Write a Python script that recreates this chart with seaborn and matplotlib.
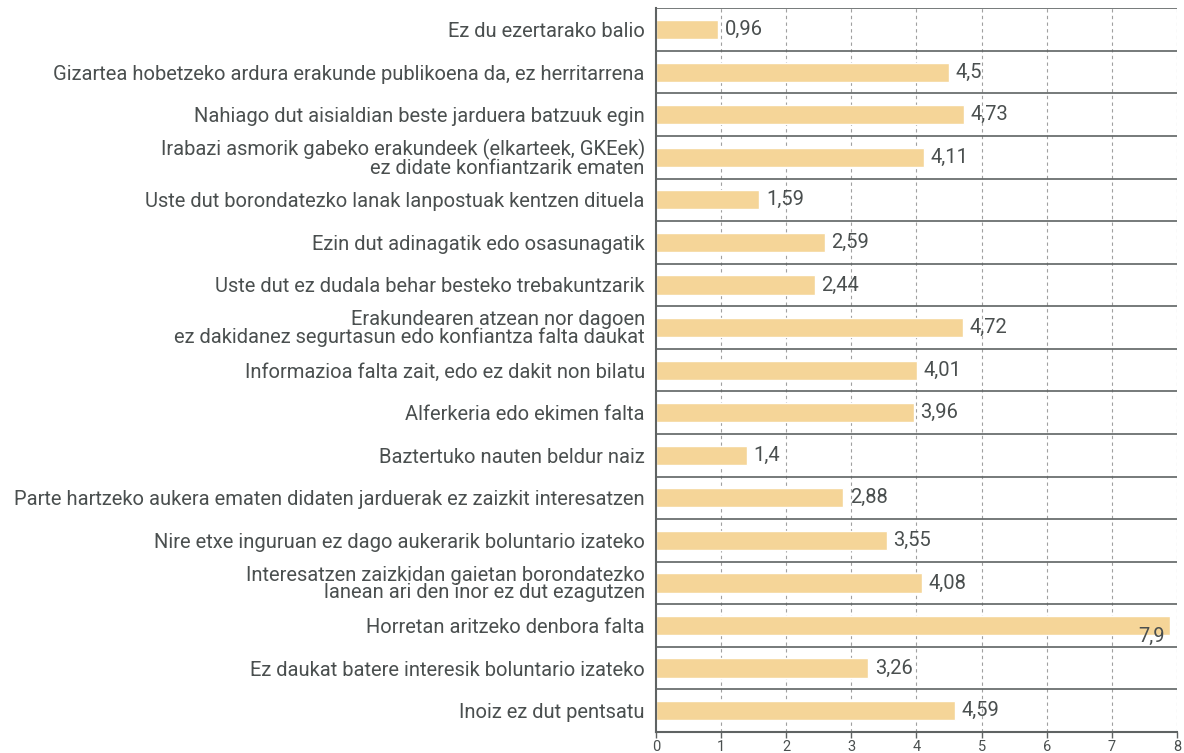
import matplotlib
matplotlib.use("Agg")
import matplotlib.pyplot as plt
import pandas as pd
import seaborn as sns

categories = [
    "Ez du ezertarako balio",
    "Gizartea hobetzeko ardura erakunde publikoena da, ez herritarrena",
    "Nahiago dut aisialdian beste jarduera batzuuk egin",
    "Irabazi asmorik gabeko erakundeek (elkarteek, GKEek)\nez didate konfiantzarik ematen",
    "Uste dut borondatezko lanak lanpostuak kentzen dituela",
    "Ezin dut adinagatik edo osasunagatik",
    "Uste dut ez dudala behar besteko trebakuntzarik",
    "Erakundearen atzean nor dagoen\nez dakidanez segurtasun edo konfiantza falta daukat",
    "Informazioa falta zait, edo ez dakit non bilatu",
    "Alferkeria edo ekimen falta",
    "Baztertuko nauten beldur naiz",
    "Parte hartzeko aukera ematen didaten jarduerak ez zaizkit interesatzen",
    "Nire etxe inguruan ez dago aukerarik boluntario izateko",
    "Interesatzen zaizkidan gaietan borondatezko\nlanean ari den inor ez dut ezagutzen",
    "Horretan aritzeko denbora falta",
    "Ez daukat batere interesik boluntario izateko",
    "Inoiz ez dut pentsatu",
]
values = [0.96, 4.5, 4.73, 4.11, 1.59, 2.59, 2.44, 4.72, 4.01, 3.96,
          1.4, 2.88, 3.55, 4.08, 7.9, 3.26, 4.59]

df = pd.DataFrame({"label": categories, "value": values})

text_col = "#4a4f4f"
line_col = "#5f6363"
bar_col = "#f5d598"

sns.set_theme(style="white")
plt.rcParams["font.family"] = ["Roboto", "DejaVu Sans"]

fig, ax = plt.subplots(figsize=(11.84, 7.53), dpi=100)
fig.subplots_adjust(left=0.554, right=0.994, top=0.989, bottom=0.028)

sns.barplot(data=df, y="label", x="value", orient="h", color=bar_col,
            width=0.45, saturation=1, ax=ax, zorder=2)

n = len(categories)
ax.set_xlim(0, 8)
ax.set_ylim(n - 0.5, -0.5)
ax.set_xticks(range(0, 9))
ax.set_xlabel("")
ax.set_ylabel("")

for x in range(1, 9):
    ax.axvline(x, color="#a0a0a0", lw=0.8, ls=(0, (3, 3)), zorder=1)
for y in range(n):
    ax.axhline(y - 0.5, color=line_col, lw=1.2, zorder=3)

for i, v in enumerate(values):
    txt = f"{v:g}".replace(".", ",")
    if v > 7.5:
        ax.text(v - 0.08, i + 0.25, txt, ha="right", va="center",
                fontsize=14.5, color=text_col, zorder=4)
    else:
        ax.text(v + 0.1, i, txt, ha="left", va="center",
                fontsize=14.5, color=text_col, zorder=4)

ax.tick_params(axis="y", length=0, labelsize=14.5, labelcolor=text_col, pad=8)
ax.tick_params(axis="x", length=4, width=1, color=line_col, labelsize=10.5,
               labelcolor=text_col, pad=2, direction="out", bottom=True)
for lbl in ax.get_yticklabels():
    lbl.set_linespacing(0.9)

for side in ["top", "right"]:
    ax.spines[side].set_visible(False)
for side in ["left", "bottom"]:
    ax.spines[side].set_color(line_col)
    ax.spines[side].set_linewidth(1.5)

fig.savefig("out.png", dpi=100)
